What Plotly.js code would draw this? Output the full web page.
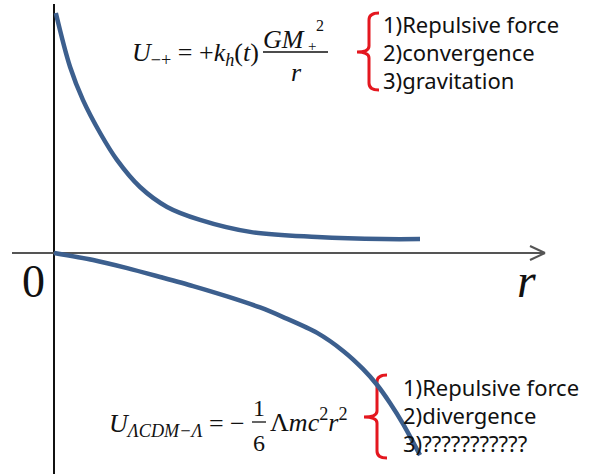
<!DOCTYPE html>
<html>
<head>
<meta charset="utf-8">
<script src="https://cdn.plot.ly/plotly-3.0.1.min.js"></script>
<style>html,body{margin:0;padding:0;background:#fff;}#chart{width:589px;height:474px;}</style>
</head>
<body>
<div id="chart"></div>
<script>
// Data (r in arbitrary units, U in arbitrary units)
const rUpper = [0.05, 0.44, 0.79, 1.26, 1.72, 2.35, 3.09, 3.99, 5.36, 7.19, 8.99, 10.0];
const uUpper = [10.0, 7.75, 6.38, 5.0, 3.88, 2.75, 1.92, 1.38, 0.88, 0.67, 0.58, 0.58];
const rLower = [0, 1.07, 2.0, 2.90, 3.80, 4.73, 5.63, 6.26, 7.19, 7.90, 8.44, 8.83, 9.18, 9.54, 10.0];
const uLower = [0, -0.29, -0.63, -1.0, -1.38, -1.81, -2.27, -2.67, -3.33, -4.08, -4.83, -5.5, -6.25, -7.13, -8.42];
const upperLabels = ['1)Repulsive force', '2)convergence', '3)gravitation'];
const lowerLabels = ['1)Repulsive force', '2)divergence', '3)???????????'];

// pixel -> data helpers (layout placement only)
const X = px => (px - 54) / 36.6;
const Y = py => (253 - py) / 24;

const curveColor = '#3c5f8e';
const red = '#e4171f';
const serif = 'Liberation Serif, Times New Roman, serif';
const sans = 'Noto Sans, Open Sans, sans-serif';

const traces = [
  {x: rUpper, y: uUpper, mode: 'lines', line: {color: curveColor, width: 4.5, shape: 'spline', smoothing: 1}, hoverinfo: 'skip'},
  {x: rLower, y: uLower, mode: 'lines', line: {color: curveColor, width: 4.5, shape: 'spline', smoothing: 0.8}, hoverinfo: 'skip'}
];

function bracePath(xEnd, xBar, xTip, yTop, yMid, yBot) {
  const p = (a, b) => X(a) + ',' + Y(b);
  return 'M' + p(xEnd, yTop) + ' Q' + p(xBar, yTop) + ' ' + p(xBar, yTop + 7) +
    ' L' + p(xBar, yMid - 6) + ' Q' + p(xBar, yMid) + ' ' + p(xTip, yMid) +
    ' Q' + p(xBar, yMid) + ' ' + p(xBar, yMid + 6) +
    ' L' + p(xBar, yBot - 7) + ' Q' + p(xBar, yBot) + ' ' + p(xEnd, yBot);
}

const shapes = [
  // vertical axis
  {type: 'line', layer: 'below', x0: 0, x1: 0, y0: Y(4), y1: Y(474), line: {color: '#111', width: 2}},
  // horizontal axis
  {type: 'line', layer: 'below', x0: X(12), x1: X(545), y0: 0, y1: 0, line: {color: '#555', width: 2}},
  {type: 'line', layer: 'below', x0: X(530), x1: X(545), y0: Y(246), y1: 0, line: {color: '#555', width: 2}},
  {type: 'line', layer: 'below', x0: X(530), x1: X(545), y0: Y(260), y1: 0, line: {color: '#555', width: 2}},
  // fraction bars
  {type: 'line', x0: X(263), x1: X(328), y0: Y(52), y1: Y(52), line: {color: '#111', width: 1.3}},
  {type: 'line', x0: X(252), x1: X(266), y0: Y(422), y1: Y(422), line: {color: '#111', width: 1.3}},
  // braces
  {type: 'path', layer: 'below', path: bracePath(379, 369, 357, 13, 52, 90), line: {color: red, width: 3}},
  {type: 'path', layer: 'below', path: bracePath(387, 377, 364, 375, 417, 458), line: {color: red, width: 3}}
];

const ann = [];
function add(text, px, py, xa, size, family, extra) {
  ann.push(Object.assign({text: text, x: X(px), y: Y(py), xref: 'x', yref: 'y', xanchor: xa, yanchor: 'middle',
    showarrow: false, font: {size: size, family: family, color: '#111'}}, extra || {}));
}
// axis labels
add('0', 33, 281, 'center', 46, serif);
add('<i>r</i>', 526, 280, 'center', 48, serif);
// upper formula
add('<i>U</i><sub>−+</sub> = +<i>k</i><sub><i>h</i></sub>(<i>t</i>)', 261, 54, 'right', 26, serif);
add('<i>GM</i>', 284, 39, 'center', 26, serif);
add('+', 312, 46, 'center', 15, serif);
add('2', 320, 25, 'center', 16, serif);
add('<i>r</i>', 296, 72, 'center', 26, serif);
// lower formula
add('<i>U</i><sub><i>ΛCDM−Λ</i></sub> = −', 247, 425, 'right', 26, serif);
add('1', 259, 408, 'center', 24, serif);
add('6', 259, 443, 'center', 24, serif);
add('Λ<i>mc</i><sup>2</sup><i>r</i><sup>2</sup>', 268, 420, 'left', 26, serif);
// bracket texts
const upY = [24, 52, 80];
upperLabels.forEach((t, i) => add(t, 381, upY[i], 'left', 22, sans));
const loY = [387, 415, 443];
lowerLabels.forEach((t, i) => add(t, 401, loY[i], 'left', 22, sans));

const layout = {
  width: 589, height: 474,
  margin: {l: 0, r: 0, t: 0, b: 0},
  paper_bgcolor: '#fff', plot_bgcolor: '#fff',
  showlegend: false,
  xaxis: {range: [X(0), X(589)], visible: false, fixedrange: true},
  yaxis: {range: [Y(474), Y(0)], visible: false, fixedrange: true},
  shapes: shapes,
  annotations: ann
};
Plotly.newPlot('chart', traces, layout, {staticPlot: true, displayModeBar: false});
</script>
</body>
</html>
